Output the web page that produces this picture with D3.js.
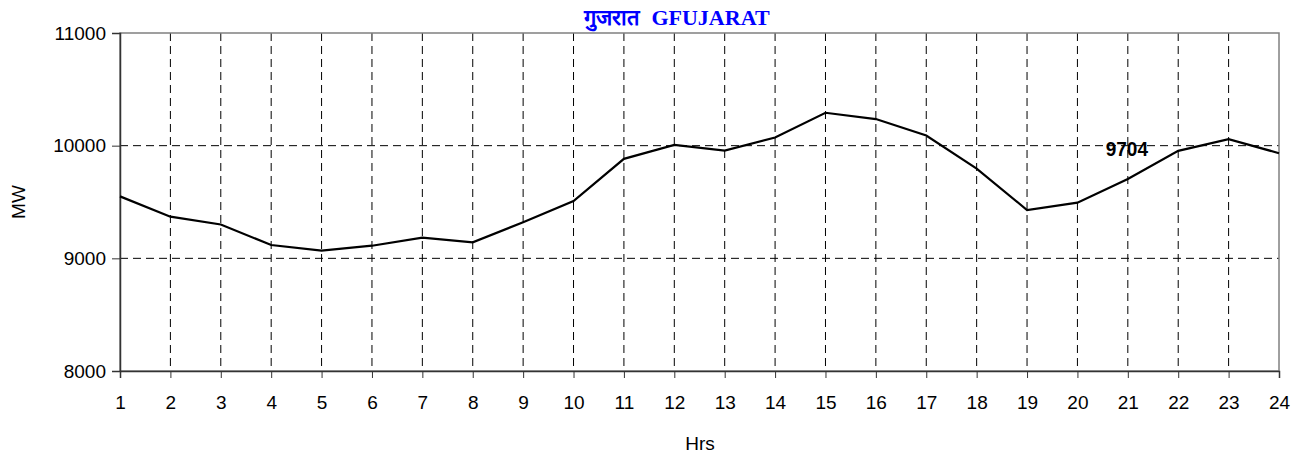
<!DOCTYPE html>
<html><head><meta charset="utf-8">
<script src="https://cdn.jsdelivr.net/npm/d3@7"></script>
<style>body{margin:0;background:#fff}svg{display:block}</style>
</head><body>
<svg id="c" width="1307" height="457"></svg>
<script>
const hours = [1,2,3,4,5,6,7,8,9,10,11,12,13,14,15,16,17,18,19,20,21,22,23,24];
const demand = [9550,9370,9300,9118,9068,9112,9183,9142,9320,9509,9883,10007,9957,10072,10292,10236,10090,9797,9429,9494,9704,9954,10058,9933];
const yTicks = [8000,9000,10000,11000];
const titleText = "गुजरात  GFUJARAT";
const labelHour = 21, labelText = "9704";

const svg = d3.select("#c");
const m = {l:120, r:1279, t:33, b:371};
const x = d3.scaleLinear().domain([1,24]).range([m.l, m.r]);
const y = d3.scaleLinear().domain([8000,11000]).range([m.b, m.t]);
const sans = "'Liberation Sans', Arial, sans-serif";

// grid
svg.append("g").selectAll("line").data(hours.slice(1,-1)).join("line")
  .attr("x1", d=>x(d)).attr("x2", d=>x(d)).attr("y1", m.t).attr("y2", m.b)
  .attr("stroke","#000").attr("stroke-width",1).attr("stroke-dasharray","8,5");
svg.append("g").selectAll("line").data([9000,10000]).join("line")
  .attr("x1", m.l).attr("x2", m.r).attr("y1", d=>y(d)).attr("y2", d=>y(d))
  .attr("stroke","#000").attr("stroke-width",1).attr("stroke-dasharray","8,5");

// border
svg.append("rect").attr("x",m.l).attr("y",m.t).attr("width",m.r-m.l).attr("height",m.b-m.t)
  .attr("fill","none").attr("stroke","#808080").attr("stroke-width",1.5);

// axes
const yAxis = svg.append("g").attr("transform",`translate(${m.l},0)`)
  .call(d3.axisLeft(y).tickValues(yTicks).tickSize(8).tickPadding(6).tickFormat(d3.format("d")));
const xAxis = svg.append("g").attr("transform",`translate(0,${m.b})`)
  .call(d3.axisBottom(x).tickValues(hours).tickSize(7).tickPadding(18).tickFormat(d3.format("d")));
[yAxis,xAxis].forEach(a=>{
  a.select(".domain").attr("stroke","#333").attr("stroke-width",1.5);
  a.selectAll(".tick line").attr("stroke","#333").attr("stroke-width",1);
  a.selectAll("text").attr("font-family",sans).attr("font-size",19).attr("fill","#000");
});

// line
svg.append("path").datum(hours.map((h,i)=>[h,demand[i]]))
  .attr("d", d3.line().x(d=>x(d[0])).y(d=>y(d[1])))
  .attr("fill","none").attr("stroke","#000").attr("stroke-width",2.2);

// data label
svg.append("text").attr("x", x(labelHour)-1).attr("y", y(10000)+10)
  .attr("text-anchor","middle").attr("font-family",sans)
  .attr("font-weight","bold").attr("font-size",20).attr("transform-origin",`${x(labelHour)} 146`)
  .attr("transform","scale(0.95,1.05)").text(labelText);

// title
svg.append("text").attr("x",677).attr("y",25).attr("text-anchor","middle")
  .attr("xml:space","preserve").style("white-space","pre")
  .attr("font-family","'Liberation Serif','Times New Roman',serif").attr("font-weight","bold")
  .attr("font-size",22).attr("fill","#0000ff").text(titleText);

// axis titles
svg.append("text").attr("x",700).attr("y",450).attr("text-anchor","middle")
  .attr("font-family",sans).attr("font-size",19).text("Hrs");
svg.append("text").attr("transform","translate(25,202) rotate(-90)").attr("text-anchor","middle")
  .attr("font-family",sans).attr("font-size",19).text("MW");
</script>
</body></html>
